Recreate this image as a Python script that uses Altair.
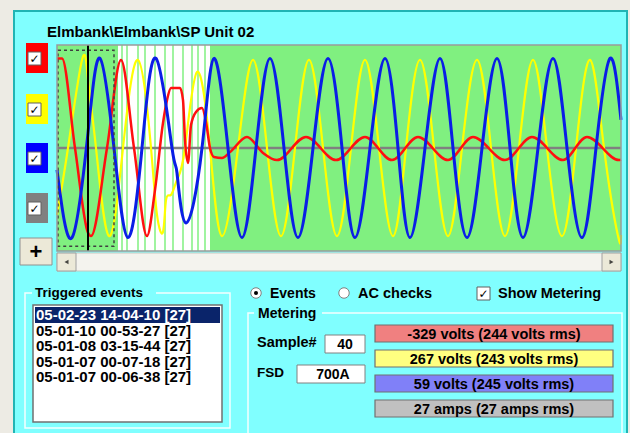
import altair as alt
import pandas as pd

# ---------------- waveform data: sample index -> value ----------------
red_s = [9, 14, 27, 40, 43, 59, 73, 86, 99, 107, 115, 119, 123, 132, 135, 137, 140, 143, 148, 154,
         158, 162, 166, 174, 182, 199, 215, 229, 258, 288, 317, 344, 370, 400, 425, 457, 484, 515, 539, 571, 573]
red_v = [348, 348, 0, -329, -342, 0, 342, 0, -342, -163, 97, 186, 233, 233, 186, 31, -58, 89, 140, 155,
         101, 0, -35, -39, -16, 43, -19, -47, 43, -47, 43, -47, 43, -47, 43, -47, 43, -47, 43, -47, -45]

yellow_s = [9, 20, 34, 40, 48, 61, 75, 90, 103, 109, 115, 118, 123, 129, 137, 149, 162, 174, 190, 205,
            219, 233, 247, 261, 275, 289, 303, 317, 331, 345, 358, 372, 386, 400, 414, 429, 443, 457,
            471, 485, 499, 514, 528, 542, 556, 570, 573]
yellow_v = [-260, 0, 342, 267, 0, -342, 0, 342, 0, -260, -326, -202, -182, -124, 0, 295, 0, -342, 0, 342,
            0, -342, 0, 342, 0, -342, 0, 342, 0, -342, 0, 342, 0, -342, 0, 342, 0, -342,
            0, 342, 0, -342, 0, 342, 0, -342, -338]

blue_s = [9, 24, 40, 52, 66, 80, 94, 108, 124, 129, 138, 154, 166, 180, 194, 208, 222, 236, 250, 265,
          280, 294, 307, 322, 337, 350, 362, 377, 392, 405, 419, 434, 449, 462, 475, 490, 505, 519,
          534, 548, 562, 573]
blue_v = [-85, -348, 59, 348, 0, -348, 0, 348, 0, -97, -291, 0, 348, 0, -348, 0, 348, 0, -348, 0,
          348, 0, -348, 0, 348, 0, -348, 0, 348, 0, -348, 0, 348, 0, -348, 0, 348, 0,
          -348, 0, 348, 109]

gray_s = [9, 573]
gray_v = [0, 0]

# trigger marker samples (white zone) and zone limits
marker_s = [74, 79, 90, 97, 107, 117, 125, 135, 144, 150, 157]
zone_start = [9, 70, 162]
zone_end = [70, 162, 573]
zone_fill = ["#80F080", "#FFFFFF", "#80F080"]

cursor_sample = 40
zoom_from, zoom_to = 10, 66

title = "Elmbank\\Elmbank\\SP Unit 02"
events = ["05-02-23 14-04-10 [27]", "05-01-10 00-53-27 [27]", "05-01-08 03-15-44 [27]",
          "05-01-07 00-07-18 [27]", "05-01-07 00-06-38 [27]"]
rms_values = [244, 243, 245, 27]
current_now = 27
sample_no = "40"
fsd = "700A"

# ---------------- helpers ----------------
FONT = "Liberation Sans"
X0, X1, Y0, Y1 = 57, 621, 45, 251
xs = alt.Scale(domain=[9, 573], range=[X0, X1])
ys = alt.Scale(domain=[-400, 400], range=[Y1, Y0])
one = pd.DataFrame({"k": [0]})


def rect(x, y, x2, y2, fill, stroke=None, sw=1.0, opacity=1.0):
    kw = dict(fill=fill, fillOpacity=opacity)
    if stroke:
        kw.update(stroke=stroke, strokeWidth=sw)
    return alt.Chart(one).mark_rect(**kw).encode(
        x=alt.value(x), x2=alt.value(x2), y=alt.value(y), y2=alt.value(y2))


def text(t, x, y, size=14, color="black", align="left", weight="bold", font=FONT):
    return alt.Chart(one).mark_text(
        text=t, align=align, baseline="alphabetic", font=font, fontSize=size,
        fontWeight=weight, color=color).encode(x=alt.value(x), y=alt.value(y))


def hline(x, x2, y, color, sw=1.0):
    return alt.Chart(one).mark_rule(color=color, strokeWidth=sw).encode(
        x=alt.value(x), x2=alt.value(x2), y=alt.value(y))


def vline(x, y, y2, color, sw=1.0):
    return alt.Chart(one).mark_rule(color=color, strokeWidth=sw).encode(
        x=alt.value(x), y=alt.value(y), y2=alt.value(y2))


def trace(s, v, color, width, interp):
    d = pd.DataFrame({"s": s, "v": v})
    return alt.Chart(d).mark_line(color=color, strokeWidth=width, interpolate=interp).encode(
        x=alt.X("s:Q", scale=xs, axis=None), y=alt.Y("v:Q", scale=ys, axis=None))


def checkbox(x, y, size=13):
    return [rect(x, y, x + size, y + size, "white", "#606060", 1),
            text("\u2713", x + size / 2, y + size - 2, size=12, align="center", font="DejaVu Sans")]


layers = []

# window panel
layers.append(rect(14, 11, 627, 445, "#80FFFF", "#20B4B4", 2))
layers.append(text(title, 47, 37, size=15))

# plot zones, trigger markers
zones = pd.DataFrame({"a": zone_start, "b": zone_end, "f": zone_fill})
layers.append(alt.Chart(zones).mark_rect().encode(
    x=alt.X("a:Q", scale=xs, axis=None), x2="b:Q",
    y=alt.value(Y0), y2=alt.value(Y1),
    color=alt.Color("f:N", scale=None, legend=None)))
layers.append(alt.Chart(pd.DataFrame({"s": marker_s})).mark_rule(color="#80F080", strokeWidth=1.5).encode(
    x=alt.X("s:Q", scale=xs, axis=None), y=alt.value(Y0), y2=alt.value(Y1)))

# traces
layers.append(trace(gray_s, gray_v, "#808080", 2.5, "linear"))
layers.append(trace(yellow_s, yellow_v, "#FFFF00", 2.2, "natural"))
layers.append(trace(red_s, red_v, "#FF1010", 2.5, "monotone"))
layers.append(trace(blue_s, blue_v, "#0A1EE6", 3, "natural"))

# zoom window and cursor
layers.append(alt.Chart(pd.DataFrame({"a": [zoom_from], "b": [zoom_to], "lo": [-382], "hi": [380]})).mark_rect(
    fillOpacity=0, stroke="#404040", strokeWidth=1.5, strokeDash=[3, 3]).encode(
    x=alt.X("a:Q", scale=xs, axis=None), x2="b:Q",
    y=alt.Y("lo:Q", scale=ys, axis=None), y2="hi:Q"))
layers.append(alt.Chart(pd.DataFrame({"s": [cursor_sample]})).mark_rule(color="black", strokeWidth=2).encode(
    x=alt.X("s:Q", scale=xs, axis=None), y=alt.value(Y0), y2=alt.value(Y1)))

# plot frame
layers.append(rect(X0, Y0, X1, Y1, "white", "#9A9A9A", 1.5, opacity=0))

# channel check boxes
for col, top in [("#FF0000", 43), ("#FFFF00", 94), ("#0000FF", 143), ("#808080", 193)]:
    layers.append(rect(26, top, 48, top + 30, col))
    layers += checkbox(28, top + 9)

# "+" button
layers.append(rect(20, 238, 52, 265, "#ECE9D8", "#909090", 1))
layers.append(text("+", 36, 259, size=22, align="center"))

# scroll bar
layers.append(rect(X0, 253, X1, 271, "#F4F3EE", "#C8C8C0", 1))
layers.append(rect(X0, 253, X0 + 19, 271, "#ECE9D8", "#A0A0A0", 1))
layers.append(rect(X1 - 19, 253, X1, 271, "#ECE9D8", "#A0A0A0", 1))
layers.append(alt.Chart(one).mark_point(shape="triangle-left", filled=True, color="black", size=22).encode(
    x=alt.value(X0 + 9.5), y=alt.value(262)))
layers.append(alt.Chart(one).mark_point(shape="triangle-right", filled=True, color="black", size=22).encode(
    x=alt.value(X1 - 9.5), y=alt.value(262)))

# triggered events group
layers.append(rect(25, 293, 230, 428, "#80FFFF", "#F4FFFF", 1.5, opacity=0))
layers.append(rect(32, 285, 156, 300, "#80FFFF"))
layers.append(text("Triggered events", 35, 297, size=13.5))
layers.append(rect(33, 305, 222, 422, "white", "#707070", 1.5))
layers.append(rect(35, 307, 220, 323, "#0A246A"))
for i, ev in enumerate(events):
    layers.append(text(ev, 36, 320 + i * 15.5, size=15, color="white" if i == 0 else "black"))

# mode selectors
layers.append(alt.Chart(one).mark_circle(size=110, color="white", stroke="#808080", strokeWidth=1, opacity=1).encode(
    x=alt.value(256), y=alt.value(293)))
layers.append(alt.Chart(one).mark_circle(size=16, color="black", opacity=1).encode(
    x=alt.value(256), y=alt.value(293)))
layers.append(text("Events", 270, 298, size=14))
layers.append(alt.Chart(one).mark_circle(size=110, color="white", stroke="#808080", strokeWidth=1, opacity=1).encode(
    x=alt.value(344), y=alt.value(293)))
layers.append(text("AC checks", 358, 298, size=14.5))
layers += checkbox(477, 287)
layers.append(text("Show Metering", 498, 298, size=14.5))

# metering group
layers.append(rect(248, 313, 622, 440, "#80FFFF", "#F4FFFF", 1.5, opacity=0))
layers.append(rect(254, 305, 322, 320, "#80FFFF"))
layers.append(text("Metering", 258, 318, size=14))
layers.append(text("Sample#", 257, 347, size=14.5))
layers.append(rect(325, 335, 365, 353, "white", "#808080", 1))
layers.append(text(sample_no, 345, 349, size=14, align="center"))
layers.append(text("FSD", 257, 377, size=13.5))
layers.append(rect(297, 365, 365, 383, "white", "#808080", 1))
layers.append(text(fsd, 333, 379, size=14, align="center"))

# metering readouts at the cursor sample
inst = [red_v[red_s.index(cursor_sample)], yellow_v[yellow_s.index(cursor_sample)],
        blue_v[blue_s.index(cursor_sample)]]
readouts = [f"{inst[0]} volts ({rms_values[0]} volts rms)",
            f"{inst[1]} volts ({rms_values[1]} volts rms)",
            f"{inst[2]} volts ({rms_values[2]} volts rms)",
            f"{current_now} amps ({rms_values[3]} amps rms)"]
bar_fill = ["#F08080", "#FFFF80", "#8080F8", "#C0C0C0"]
for i, (lab, f) in enumerate(zip(readouts, bar_fill)):
    top = 325 + i * 25
    layers.append(rect(375, top, 613, top + 17, f, "#707070", 1.2))
    layers.append(text(lab, 494, top + 13.5, size=14.5, align="center"))

chart = alt.layer(*layers).properties(
    width=630, height=433, autosize=alt.AutoSizeParams(type="none"), padding=0,
    background="#EDEBE4",
).configure_view(stroke=None)

chart.save("out.html", embed_options={"renderer": "svg", "actions": False})
